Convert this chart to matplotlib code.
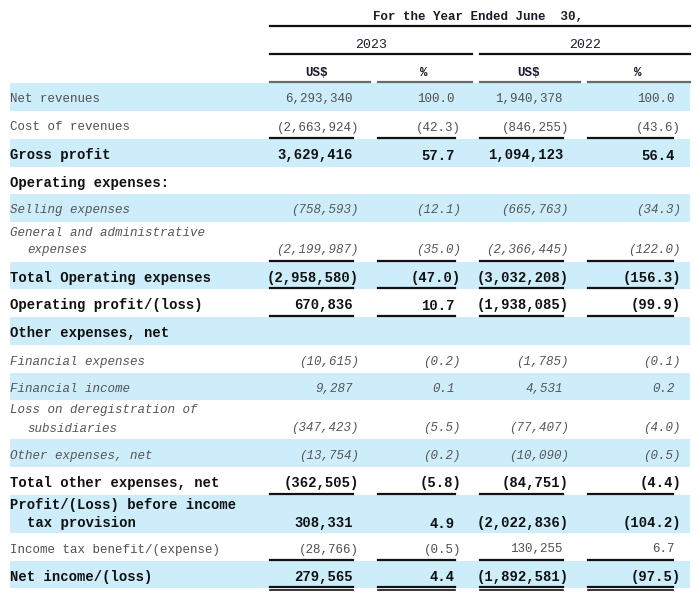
import matplotlib.pyplot as plt
from matplotlib.patches import Rectangle

plt.rcParams['font.family'] = ['Liberation Mono', 'DejaVu Sans Mono']

# table content
labels = [
    "Net revenues",
    "Cost of revenues",
    "Gross profit",
    "Operating expenses:",
    "Selling expenses",
    "General and administrative\nexpenses",
    "Total Operating expenses",
    "Operating profit/(loss)",
    "Other expenses, net",
    "Financial expenses",
    "Financial income",
    "Loss on deregistration of\nsubsidiaries",
    "Other expenses, net",
    "Total other expenses, net",
    "Profit/(Loss) before income\ntax provision",
    "Income tax benefit/(expense)",
    "Net income/(loss)",
]
us_2023 = ["6,293,340", "(2,663,924)", "3,629,416", "", "(758,593)", "(2,199,987)",
           "(2,958,580)", "670,836", "", "(10,615)", "9,287", "(347,423)", "(13,754)",
           "(362,505)", "308,331", "(28,766)", "279,565"]
pct_2023 = ["100.0", "(42.3)", "57.7", "", "(12.1)", "(35.0)", "(47.0)", "10.7", "",
            "(0.2)", "0.1", "(5.5)", "(0.2)", "(5.8)", "4.9", "(0.5)", "4.4"]
us_2022 = ["1,940,378", "(846,255)", "1,094,123", "", "(665,763)", "(2,366,445)",
           "(3,032,208)", "(1,938,085)", "", "(1,785)", "4,531", "(77,407)", "(10,090)",
           "(84,751)", "(2,022,836)", "130,255", "(1,892,581)"]
pct_2022 = ["100.0", "(43.6)", "56.4", "", "(34.3)", "(122.0)", "(156.3)", "(99.9)", "",
            "(0.1)", "0.2", "(4.0)", "(0.5)", "(4.4)", "(104.2)", "6.7", "(97.5)"]

title = "For the Year Ended June  30,"
years = ["2023", "2022"]
units = ["US$", "%", "US$", "%"]

# row styles: n normal, b bold, i italic
styles = ["n", "n", "b", "b", "i", "i", "b", "b", "b", "i", "i", "i", "i", "b", "b", "n", "b"]
label_style = ["n", "n", "b", "b", "i", "i", "b", "b", "b", "i", "i", "i", "i", "b", "b", "n", "b"]
under = {1: 1, 5: 1, 6: 1, 7: 1, 13: 1, 15: 1, 16: 2}

row_h = [28, 28, 28, 27, 28, 40, 27, 28, 28, 28, 27, 39, 28, 28, 38, 28, 27]
top0 = 83
col_right = [353, 455, 563, 675]
col_seg = [(270, 353), (378, 455), (480, 563), (588, 673)]
band = "#cdedfb"

fig = plt.figure(figsize=(7, 5.93), dpi=100)
ax = fig.add_axes([0, 0, 1, 1])
ax.set_xlim(0, 700)
ax.set_ylim(593, 0)
ax.axis("off")

def font(st):
    if st == "b":
        return dict(fontsize=10, fontweight="bold", color="#111111")
    if st == "i":
        return dict(fontsize=9, fontstyle="italic", color="#555555")
    return dict(fontsize=9, color="#505050")

# header
ax.text(478, 15, title, ha="center", va="center_baseline", fontsize=9,
        fontweight="bold", color="#1e1a2a")
ax.plot([270, 690], [26, 26], color="#111111", lw=1.6)
for yr, cx, seg in zip(years, [371, 585], [(270, 472), (480, 690)]):
    ax.text(cx, 43, yr, ha="center", va="center_baseline", fontsize=9.5, color="#1e1a2a")
    ax.plot(seg, [54, 54], color="#111111", lw=1.6)
for u, cx, seg in zip(units, [317, 424, 528, 638], [(270, 370), (378, 472), (480, 580), (588, 690)]):
    ax.text(cx, 72, u, ha="center", va="center_baseline", fontsize=9,
            fontweight="bold", color="#1e1a2a")
    ax.plot(seg, [82, 82], color="#6a6a6a", lw=1.6)

top = top0
for i, lab in enumerate(labels):
    h = row_h[i]
    if i % 2 == 0:
        ax.add_patch(Rectangle((10, top), 680, h, color=band, lw=0, zorder=0))
    lines = lab.split("\n")
    lf = font(label_style[i])
    if len(lines) == 1:
        ax.text(10, top + h / 2 + 1, lines[0], ha="left", va="center_baseline", **lf)
        vy = top + h / 2 + 1
    else:
        ax.text(10, top + 9, lines[0], ha="left", va="center_baseline", **lf)
        ax.text(27, top + 27, lines[1], ha="left", va="center_baseline", **lf)
        vy = top + 27
    vf = font(styles[i])
    for x, v in zip(col_right, [us_2023[i], pct_2023[i], us_2022[i], pct_2022[i]]):
        if not v:
            continue
        # closing parenthesis hangs past the column edge
        shift = 6 if v.endswith(")") else 0
        ax.text(x + shift, vy, v, ha="right", va="center_baseline", **vf)
    if i in under:
        y = top + h - 1
        for a, b in col_seg:
            ax.plot([a, b], [y, y], color="#111111", lw=1.6)
            if under[i] == 2:
                ax.plot([a, b], [y + 3, y + 3], color="#111111", lw=1.2)
    top += h

fig.savefig("out.png", dpi=100)
